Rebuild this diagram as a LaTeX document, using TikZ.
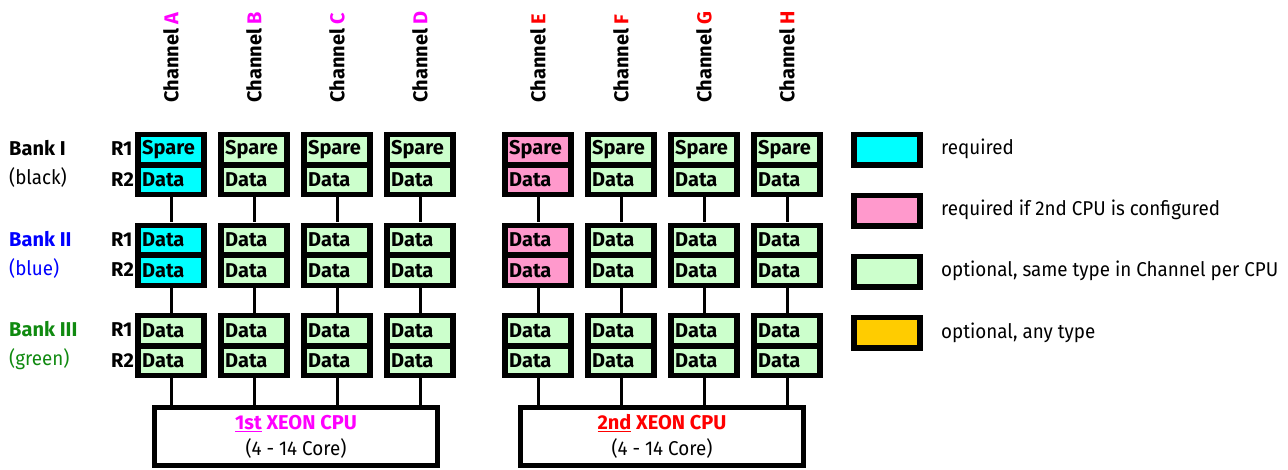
\documentclass[tikz,border=0pt]{standalone}
\usepackage{fontspec}
\setmainfont{Fira Sans}
\newfontfamily\narrowfont{Fira Sans}[FakeStretch=0.94]
\definecolor{cyanreq}{HTML}{00FFFF}
\definecolor{pinkreq}{HTML}{FF99CC}
\definecolor{optgreen}{HTML}{CCFFCC}
\definecolor{anytype}{HTML}{FFCC00}
\definecolor{chmag}{HTML}{FF00FF}
\definecolor{chred}{HTML}{FF0000}
\definecolor{bankblue}{HTML}{0000FF}
\definecolor{bankgreen}{HTML}{108A10}
\tikzset{
  txt/.style={font=\fontsize{20}{24}\selectfont\narrowfont, inner sep=0pt},
  btxt/.style={font=\fontsize{20}{24}\selectfont\bfseries, inner sep=0pt},
  module/.style={fill=black, minimum width=72pt, minimum height=65pt, inner sep=0pt, anchor=north west},
  cell/.style={font=\fontsize{20}{24}\selectfont\bfseries, minimum height=24.5pt, text width=58pt, inner xsep=1pt, inner ysep=0pt, align=left, anchor=north west},
  conn/.style={line width=3pt},
  cpubox/.style={draw, line width=5pt, minimum width=283pt, minimum height=58pt, fill=white, align=center, inner sep=0pt, font=\fontsize{20}{26}\selectfont},
  legbox/.style={fill=black, minimum width=72pt, minimum height=36pt, inner sep=0pt, anchor=north west},
  legfill/.style={minimum width=60pt, minimum height=25pt, inner sep=0pt, anchor=north west},
  chan/.style={btxt, rotate=90, anchor=west},
}
\begin{document}
\begin{tikzpicture}[x=1pt, y=-1pt]
\useasboundingbox (0,0) rectangle (1288,470);

% CPUs
\node[cpubox] (cpu1) at (296,436.5) {\textcolor{chmag}{\bfseries\underline{1st} XEON CPU}\\{\narrowfont(4 - 14 Core)}};
\node[cpubox] (cpu2) at (662,436.5) {\textcolor{chred}{\bfseries\underline{2nd} XEON CPU}\\{\narrowfont(4 - 14 Core)}};

% Columns
\foreach \c/\x/\fc/\chc/\cpu in {A/135/cyanreq/chmag/cpu1, B/218/optgreen/chmag/cpu1, C/301/optgreen/chmag/cpu1, D/384/optgreen/chmag/cpu1, E/502/pinkreq/chred/cpu2, F/585/optgreen/chred/cpu2, G/668/optgreen/chred/cpu2, H/751/optgreen/chred/cpu2} {
  \node[chan] (ch\c) at (\x+36,103) {Channel \textcolor{\chc}{\c}};
  \node[module] (m\c1) at (\x,132) {};
  \node[cell, fill=\fc] (m\c1a) at ([shift={(6,5)}]m\c1.north west) {Spare};
  \node[cell, fill=\fc] (m\c1b) at ([shift={(6,35.5)}]m\c1.north west) {Data};
  \node[module] (m\c2) at (\x,222.5) {};
  \node[cell, fill=\fc] (m\c2a) at ([shift={(6,5)}]m\c2.north west) {Data};
  \node[cell, fill=\fc] (m\c2b) at ([shift={(6,35.5)}]m\c2.north west) {Data};
  \node[module] (m\c3) at (\x,313) {};
  \node[cell, fill=optgreen] (m\c3a) at ([shift={(6,5)}]m\c3.north west) {Data};
  \node[cell, fill=optgreen] (m\c3b) at ([shift={(6,35.5)}]m\c3.north west) {Data};
  \draw[conn] (m\c1.south) -- (m\c2.north);
  \draw[conn] (m\c2.south) -- (m\c3.north);
  \draw[conn] (m\c3.south) -- (m\c3.south |- \cpu.north);
}

% Bank labels
\node[btxt, anchor=west] (bk1) at (9,148) {Bank I};
\node[txt, anchor=west] (bk1c) at (9,178) {(black)};
\node[btxt, anchor=west, text=bankblue] (bk2) at (9,239) {Bank II};
\node[txt, anchor=west, text=bankblue] (bk2c) at (9,269) {(blue)};
\node[btxt, anchor=west, text=bankgreen] (bk3) at (9,329.5) {Bank III};
\node[txt, anchor=west, text=bankgreen] (bk3c) at (9,359.5) {(green)};
\foreach \b/\y in {1/132, 2/222.5, 3/313} {
  \node[btxt, anchor=west] (r1\b) at (111,\y+17) {R1};
  \node[btxt, anchor=west] (r2\b) at (111,\y+47.5) {R2};
}

% Legend
\foreach \i/\y/\fc/\t in {1/132/cyanreq/required, 2/193/pinkreq/required if 2nd CPU is configured, 3/254/optgreen/{optional, same type in Channel per CPU}, 4/315/anytype/{optional, any type}} {
  \node[legbox] (lg\i) at (851,\y) {};
  \node[legfill, fill=\fc] (lf\i) at ([shift={(6,5)}]lg\i.north west) {};
  \node[txt, anchor=base west] (lt\i) at (941,\y+23) {\t};
}
\end{tikzpicture}
\end{document}
